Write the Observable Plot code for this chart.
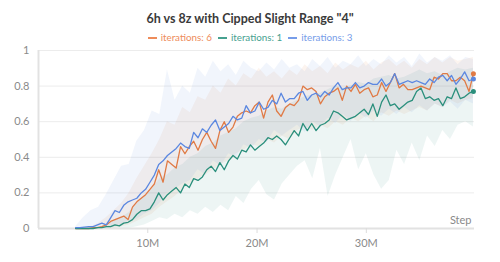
<!DOCTYPE html>
<html>
<head>
<meta charset="utf-8">
<script src="https://cdn.jsdelivr.net/npm/d3@7"></script>
<script src="https://cdn.jsdelivr.net/npm/@observablehq/plot@0.6"></script>
<style>
  html, body { margin: 0; padding: 0; background: #fff; }
  body { width: 500px; height: 262px; overflow: hidden; font-family: Lato, "Noto Sans", sans-serif; }
  #title { height: 29px; padding-top: 10px; box-sizing: border-box; text-align: center; font-size: 12.5px; font-weight: 700; color: #3a3a3a; line-height: 17px; white-space: nowrap; }
  #legend { height: 14px; text-align: center; font-size: 9.8px; line-height: 16px; white-space: nowrap; }
  #legend span.item { margin: 0 3px; }
  #legend span.sw { display: inline-block; width: 9px; height: 2px; vertical-align: middle; margin-right: 4px; position: relative; top: -1px; }
  #chart svg { display: block; }
</style>
</head>
<body>
<div id="title"></div>
<div id="legend"></div>
<div id="chart"></div>
<script>
// ---- data ----
const titleText = '6h vs 8z with Cipped Slight Range "4"';
const seriesNames = ["iterations: 6", "iterations: 1", "iterations: 3"];
const seriesColors = ["#e07a45", "#2a8f7c", "#5b87e0"];
const legendColors = ["#ee8c5a", "#47a190", "#779de9"];

// line steps: 3.4M to 39.8M every 0.4M
const lineStart = 3.4e6, lineStep = 0.4e6;
const orange = [0,0,0,0,0.005,0.005,0.01,0.02,0.04,0.05,
  0.06,0.07,0.05,0.12,0.15,0.17,0.19,0.22,0.25,0.33,
  0.26,0.38,0.36,0.34,0.46,0.42,0.46,0.49,0.44,0.50,
  0.54,0.49,0.45,0.55,0.60,0.54,0.57,0.63,0.65,0.66,
  0.65,0.69,0.71,0.62,0.71,0.75,0.66,0.63,0.68,0.70,
  0.69,0.72,0.80,0.78,0.79,0.77,0.70,0.74,0.76,0.77,
  0.79,0.72,0.80,0.77,0.81,0.76,0.78,0.79,0.74,0.75,
  0.82,0.77,0.82,0.87,0.79,0.81,0.78,0.78,0.79,0.80,
  0.79,0.78,0.85,0.84,0.87,0.87,0.83,0.83,0.85,0.83,
  0.77,0.87];
const green = [0,0,0,0,0,0.005,0.005,0.01,0.01,0.02,
  0.015,0.03,0.035,0.05,0.08,0.10,0.10,0.11,0.15,0.20,
  0.16,0.19,0.21,0.23,0.20,0.25,0.23,0.28,0.27,0.29,
  0.33,0.35,0.32,0.37,0.33,0.38,0.41,0.39,0.44,0.43,
  0.47,0.44,0.46,0.48,0.51,0.50,0.52,0.50,0.47,0.51,
  0.55,0.52,0.59,0.55,0.59,0.55,0.58,0.59,0.61,0.66,
  0.65,0.63,0.61,0.62,0.63,0.65,0.67,0.64,0.70,0.63,
  0.71,0.75,0.69,0.70,0.67,0.69,0.71,0.72,0.77,0.79,
  0.73,0.74,0.72,0.73,0.69,0.74,0.73,0.79,0.73,0.74,
  0.76,0.77];
const blue = [0.005,0.005,0.008,0.01,0.01,0.02,0.03,0.02,0.06,0.10,
  0.09,0.13,0.15,0.16,0.17,0.20,0.22,0.26,0.30,0.36,
  0.38,0.41,0.43,0.45,0.48,0.46,0.45,0.54,0.51,0.56,
  0.54,0.58,0.61,0.55,0.57,0.59,0.63,0.61,0.62,0.69,
  0.65,0.66,0.71,0.67,0.68,0.72,0.70,0.76,0.71,0.73,
  0.73,0.76,0.77,0.72,0.75,0.76,0.74,0.77,0.75,0.79,
  0.82,0.78,0.79,0.79,0.82,0.79,0.80,0.82,0.81,0.81,
  0.84,0.80,0.82,0.87,0.81,0.82,0.83,0.82,0.83,0.82,
  0.81,0.84,0.82,0.85,0.86,0.83,0.86,0.81,0.84,0.88,
  0.83,0.84];

// band steps: 3.4M to 39.8M every 0.7M
const bandStart = 3.4e6, bandStep = 0.7e6;
const orangeHi = [0,0,0.01,0.03,0.06,0.10,0.14,0.20,0.28,0.35,
  0.42,0.50,0.60,0.58,0.68,0.65,0.74,0.72,0.80,0.76,
  0.84,0.80,0.87,0.84,0.90,0.85,0.88,0.84,0.89,0.86,
  0.92,0.88,0.91,0.87,0.93,0.89,0.92,0.90,0.94,0.89,
  0.93,0.95,0.91,0.94,0.90,0.95,0.92,0.96,0.93,0.96,
  0.94,0.95,0.96];
const orangeLo = [0,0,0,0,0,0,0.01,0.02,0.04,0.06,
  0.08,0.12,0.15,0.18,0.22,0.25,0.28,0.30,0.33,0.36,
  0.38,0.42,0.44,0.47,0.46,0.50,0.48,0.52,0.50,0.55,
  0.57,0.55,0.58,0.56,0.60,0.58,0.62,0.60,0.63,0.60,
  0.65,0.63,0.66,0.64,0.66,0.68,0.66,0.70,0.68,0.72,
  0.70,0.72,0.73];
const greenHi = [0,0,0,0.01,0.02,0.04,0.06,0.09,0.14,0.18,
  0.22,0.28,0.30,0.34,0.36,0.40,0.42,0.46,0.48,0.52,
  0.54,0.56,0.60,0.62,0.63,0.66,0.68,0.67,0.70,0.72,
  0.74,0.75,0.76,0.78,0.80,0.79,0.80,0.82,0.81,0.84,
  0.85,0.86,0.84,0.85,0.87,0.89,0.87,0.88,0.86,0.88,
  0.90,0.89,0.90];
const greenLo = [0,0,0,0,0,0,0,0,0.01,0.02,
  0.04,0.06,0.05,0.08,0.06,0.10,0.08,0.12,0.09,0.13,
  0.10,0.18,0.14,0.22,0.27,0.19,0.16,0.25,0.30,0.35,
  0.38,0.28,0.45,0.18,0.30,0.40,0.50,0.33,0.42,0.30,
  0.22,0.27,0.44,0.36,0.48,0.38,0.52,0.46,0.55,0.50,
  0.58,0.60,0.57];
const blueHi = [0.01,0.06,0.10,0.12,0.19,0.27,0.35,0.36,0.49,0.55,
  0.66,0.64,0.89,0.72,0.80,0.76,0.90,0.85,0.94,0.88,
  0.92,0.86,0.94,0.90,0.88,0.93,0.89,0.95,0.90,0.92,
  0.88,0.95,0.91,0.96,0.90,0.94,0.92,0.97,0.91,0.95,
  0.92,0.97,0.93,0.96,0.91,0.98,0.93,0.96,0.94,0.97,
  0.92,0.96,0.95];
const blueLo = [0,0,0,0,0,0.01,0.02,0.04,0.05,0.08,
  0.10,0.14,0.20,0.22,0.25,0.27,0.33,0.30,0.38,0.35,
  0.42,0.40,0.47,0.45,0.50,0.48,0.55,0.52,0.55,0.58,
  0.54,0.60,0.57,0.62,0.59,0.64,0.60,0.65,0.62,0.66,
  0.63,0.67,0.64,0.68,0.65,0.69,0.66,0.70,0.68,0.71,
  0.67,0.72,0.70];

const xTicks = [10e6, 20e6, 30e6];
const yTicks = [0, 0.2, 0.4, 0.6, 0.8, 1];

// ---- build tables ----
const lineSeries = [orange, green, blue];
const bandSeries = [[orangeLo, orangeHi], [greenLo, greenHi], [blueLo, blueHi]];
const lines = [];
lineSeries.forEach((vals, s) => vals.forEach((v, i) => lines.push({series: seriesNames[s], step: lineStart + i * lineStep, value: v})));
const bands = [];
bandSeries.forEach(([lo, hi], s) => lo.forEach((v, i) => bands.push({series: seriesNames[s], step: bandStart + i * bandStep, lo: v, hi: hi[i]})));
const lastPoints = lineSeries.map((vals, s) => ({series: seriesNames[s], step: lineStart + (vals.length - 1) * lineStep, value: vals[vals.length - 1]}));

// ---- title & legend ----
document.getElementById("title").textContent = titleText;
const legend = document.getElementById("legend");
seriesNames.forEach((n, i) => {
  const item = document.createElement("span");
  item.className = "item";
  item.style.color = legendColors[i];
  const sw = document.createElement("span");
  sw.className = "sw";
  sw.style.background = legendColors[i];
  item.appendChild(sw);
  item.appendChild(document.createTextNode(n));
  legend.appendChild(item);
});

const color = {domain: seriesNames, range: seriesColors};

const chart = Plot.plot({
  width: 500,
  height: 219,
  marginLeft: 38,
  marginRight: 26,
  marginTop: 7,
  marginBottom: 34,
  style: {fontFamily: 'Lato, "Noto Sans", sans-serif', fontSize: "11px", color: "#8a8a8a", background: "#fff"},
  x: {domain: [0, 39.9e6]},
  y: {domain: [0, 1]},
  color,
  marks: [
    Plot.gridY(yTicks, {stroke: "#ececec", strokeOpacity: 1, strokeWidth: 1}),
    Plot.areaY(bands, {x: "step", y1: "lo", y2: "hi", fill: "series", fillOpacity: 0.085, curve: "linear"}),
    Plot.ruleY([0], {stroke: "#e2e2e2", strokeWidth: 2}),
    Plot.ruleX([0], {stroke: "#e2e2e2", strokeWidth: 2}),
    Plot.axisY(yTicks, {tickSize: 0, tickPadding: 9, tickFormat: d => String(d), fill: "#8a8a8a", fontSize: 11}),
    Plot.axisX(xTicks, {tickSize: 5, stroke: "#dcdcdc", tickPadding: 6, tickFormat: d => (d / 1e6) + "M", fill: "#8a8a8a", fontSize: 11, label: null}),
    Plot.line(lines, {x: "step", y: "value", z: "series", stroke: "series", strokeWidth: 1.3, curve: "linear"}),
    Plot.dot(lastPoints, {x: "step", y: "value", fill: "series", r: 2.5}),
    Plot.text(["Step"], {frameAnchor: "bottom-right", dx: -3, dy: -5, fill: "#8a8a8a", fontSize: 11, textAnchor: "end"})
  ]
});
document.getElementById("chart").appendChild(chart);
</script>
</body>
</html>
